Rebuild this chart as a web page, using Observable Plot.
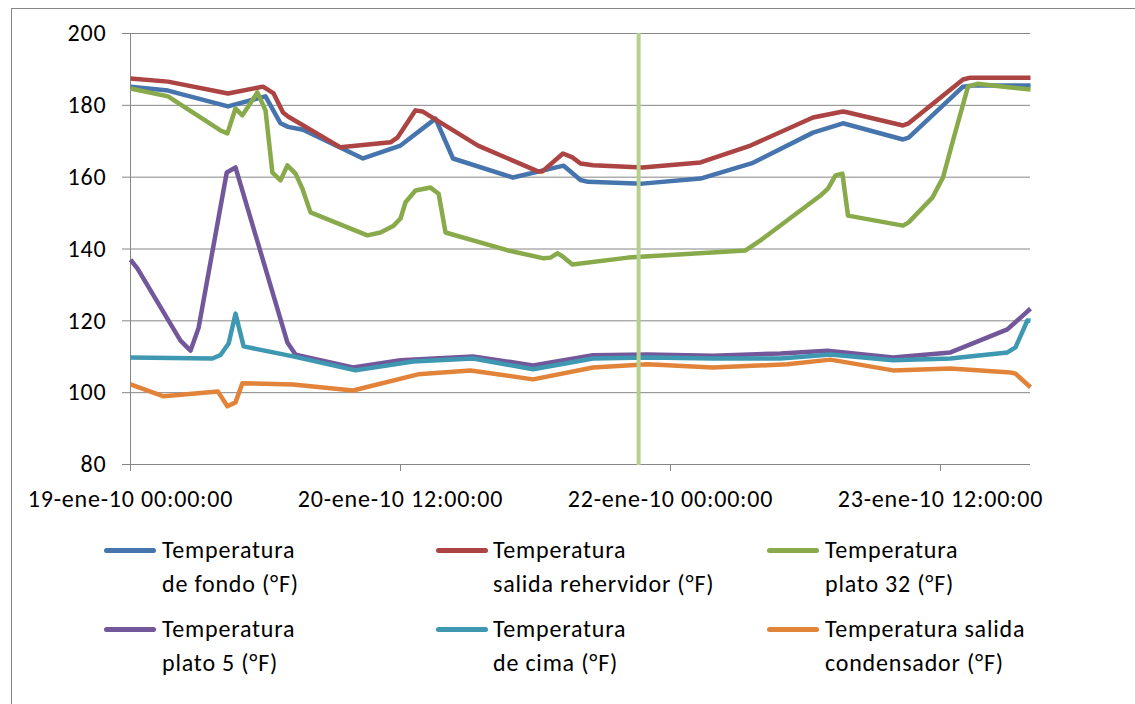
<!DOCTYPE html>
<html>
<head>
<meta charset="utf-8">
<script src="https://cdn.jsdelivr.net/npm/d3@7"></script>
<script src="https://cdn.jsdelivr.net/npm/@observablehq/plot@0.6"></script>
<style>
  html, body { margin: 0; padding: 0; background: #fff; overflow: hidden; }
  #wrap { position: relative; width: 1135px; height: 704px; overflow: hidden; font-family: Carlito, Calibri, Lato, sans-serif; }
  #frame { position: absolute; left: 11px; top: 8px; width: 1300px; height: 900px; border-left: 1px solid #868686; border-top: 1px solid #868686; }
  #chart { position: absolute; left: 0; top: 0; }
  .leg { position: absolute; font-size: 24px; letter-spacing: 0.8px; line-height: 34.5px; color: #000; white-space: nowrap; }
  .sw { position: absolute; width: 52px; height: 5px; border-radius: 3px; }
</style>
</head>
<body>
<div id="wrap">
  <div id="frame"></div>
  <div id="chart"></div>
  <div id="legend"></div>
</div>
<script>
// ---- data ----
const seriesNames = [
  "Temperatura de fondo (°F)",
  "Temperatura salida rehervidor (°F)",
  "Temperatura plato 32 (°F)",
  "Temperatura plato 5 (°F)",
  "Temperatura de cima (°F)",
  "Temperatura salida condensador (°F)"
];
const legendLines = [
  ["Temperatura", "de fondo (°F)"],
  ["Temperatura", "salida rehervidor (°F)"],
  ["Temperatura", "plato 32 (°F)"],
  ["Temperatura", "plato 5 (°F)"],
  ["Temperatura", "de cima (°F)"],
  ["Temperatura salida", "condensador (°F)"]
];
const seriesColors = ["#4675ad", "#ab4442", "#88aa4b", "#72589a", "#3e98b1", "#e2833a"];

const fondo = [
  ["2010-01-19 00:00", 185.2], ["2010-01-19 05:00", 184.1], ["2010-01-19 13:00", 179.7],
  ["2010-01-19 18:00", 182.5], ["2010-01-19 20:00", 175.0], ["2010-01-19 21:00", 174.0],
  ["2010-01-19 23:00", 173.2], ["2010-01-20 07:00", 165.2], ["2010-01-20 12:00", 168.8],
  ["2010-01-20 16:40", 176.3], ["2010-01-20 19:00", 165.2], ["2010-01-21 03:00", 159.9],
  ["2010-01-21 09:45", 163.2], ["2010-01-21 12:00", 159.2], ["2010-01-21 13:00", 158.7],
  ["2010-01-21 20:15", 158.2], ["2010-01-22 04:00", 159.6], ["2010-01-22 11:00", 164.0],
  ["2010-01-22 19:00", 172.4], ["2010-01-22 23:00", 175.0], ["2010-01-23 07:00", 170.5],
  ["2010-01-23 07:45", 171.0], ["2010-01-23 15:00", 185.2], ["2010-01-23 16:25", 185.5],
  ["2010-01-24 00:00", 185.5]
];
const rehervidor = [
  ["2010-01-19 00:00", 187.5], ["2010-01-19 05:00", 186.6], ["2010-01-19 13:00", 183.3],
  ["2010-01-19 17:40", 185.2], ["2010-01-19 19:05", 183.3], ["2010-01-19 20:20", 178.0],
  ["2010-01-19 21:00", 176.9], ["2010-01-20 04:00", 168.3], ["2010-01-20 10:40", 169.7],
  ["2010-01-20 11:35", 171.0], ["2010-01-20 14:00", 178.6], ["2010-01-20 14:55", 178.3],
  ["2010-01-20 22:20", 168.8], ["2010-01-21 06:20", 161.6], ["2010-01-21 06:55", 161.6],
  ["2010-01-21 09:40", 166.6], ["2010-01-21 10:55", 165.5], ["2010-01-21 12:00", 163.8],
  ["2010-01-21 13:40", 163.3], ["2010-01-21 20:15", 162.7], ["2010-01-22 04:00", 164.1],
  ["2010-01-22 10:40", 168.8], ["2010-01-22 19:00", 176.6], ["2010-01-22 23:00", 178.3],
  ["2010-01-22 23:40", 178.0], ["2010-01-23 07:00", 174.4], ["2010-01-23 07:45", 175.0],
  ["2010-01-23 15:00", 187.2], ["2010-01-23 16:00", 187.7], ["2010-01-24 00:00", 187.7]
];
const plato32 = [
  ["2010-01-19 00:00", 184.7], ["2010-01-19 05:00", 182.5], ["2010-01-19 12:00", 173.0],
  ["2010-01-19 12:55", 172.2], ["2010-01-19 14:00", 179.1], ["2010-01-19 14:55", 177.2],
  ["2010-01-19 16:55", 183.6], ["2010-01-19 18:00", 178.6], ["2010-01-19 18:55", 161.3],
  ["2010-01-19 20:00", 159.1], ["2010-01-19 20:55", 163.3], ["2010-01-19 22:00", 161.0],
  ["2010-01-19 22:55", 156.8], ["2010-01-20 00:00", 150.2], ["2010-01-20 07:35", 143.8],
  ["2010-01-20 09:20", 144.6], ["2010-01-20 11:05", 146.5], ["2010-01-20 12:00", 148.5],
  ["2010-01-20 12:40", 153.0], ["2010-01-20 14:00", 156.3], ["2010-01-20 16:00", 157.1],
  ["2010-01-20 17:05", 155.4], ["2010-01-20 18:00", 144.6], ["2010-01-21 02:20", 139.6],
  ["2010-01-21 07:05", 137.4], ["2010-01-21 08:00", 137.6], ["2010-01-21 08:55", 138.8],
  ["2010-01-21 09:35", 138.0], ["2010-01-21 10:55", 135.7], ["2010-01-21 18:20", 137.6],
  ["2010-01-22 10:00", 139.6], ["2010-01-22 12:00", 142.4], ["2010-01-22 20:00", 154.9],
  ["2010-01-22 21:00", 156.8], ["2010-01-22 22:00", 160.5], ["2010-01-22 22:55", 161.0],
  ["2010-01-22 23:40", 149.3], ["2010-01-23 07:00", 146.5], ["2010-01-23 07:45", 147.4],
  ["2010-01-23 10:55", 154.3], ["2010-01-23 12:20", 159.9], ["2010-01-23 13:40", 170.2],
  ["2010-01-23 15:40", 185.2], ["2010-01-23 16:55", 186.0], ["2010-01-23 20:25", 185.2],
  ["2010-01-24 00:00", 184.4]
];
const plato5 = [
  ["2010-01-19 00:00", 137.0], ["2010-01-19 00:55", 134.6], ["2010-01-19 06:40", 114.5],
  ["2010-01-19 08:00", 111.7], ["2010-01-19 09:05", 118.1], ["2010-01-19 12:50", 161.3],
  ["2010-01-19 14:00", 162.7], ["2010-01-19 20:55", 114.0], ["2010-01-19 22:00", 110.6],
  ["2010-01-20 05:40", 107.0], ["2010-01-20 12:00", 109.0], ["2010-01-20 21:40", 110.1],
  ["2010-01-21 05:40", 107.6], ["2010-01-21 13:40", 110.4], ["2010-01-21 20:55", 110.6],
  ["2010-01-22 05:40", 110.3], ["2010-01-22 14:40", 110.9], ["2010-01-22 20:55", 111.7],
  ["2010-01-23 05:40", 109.8], ["2010-01-23 13:20", 111.2], ["2010-01-23 20:55", 117.6],
  ["2010-01-24 00:00", 123.4]
];
const cima = [
  ["2010-01-19 00:00", 109.8], ["2010-01-19 10:55", 109.5], ["2010-01-19 12:00", 110.5],
  ["2010-01-19 13:05", 113.7], ["2010-01-19 14:00", 122.0], ["2010-01-19 15:05", 112.9],
  ["2010-01-19 21:40", 110.1], ["2010-01-20 06:00", 106.2], ["2010-01-20 13:40", 108.7],
  ["2010-01-20 21:40", 109.5], ["2010-01-21 05:40", 106.5], ["2010-01-21 13:40", 109.5],
  ["2010-01-21 20:55", 109.8], ["2010-01-22 05:40", 109.5], ["2010-01-22 14:40", 109.5],
  ["2010-01-22 21:20", 110.6], ["2010-01-23 05:40", 109.0], ["2010-01-23 13:20", 109.5],
  ["2010-01-23 20:55", 111.2], ["2010-01-23 22:00", 112.6], ["2010-01-23 23:35", 120.1],
  ["2010-01-24 00:00", 120.0]
];
const condensador = [
  ["2010-01-19 00:00", 102.3], ["2010-01-19 04:25", 99.0], ["2010-01-19 11:40", 100.3],
  ["2010-01-19 12:55", 96.2], ["2010-01-19 14:00", 97.3], ["2010-01-19 14:55", 102.6],
  ["2010-01-19 21:40", 102.3], ["2010-01-20 05:40", 100.6], ["2010-01-20 14:20", 105.1],
  ["2010-01-20 21:20", 106.2], ["2010-01-21 05:40", 103.7], ["2010-01-21 13:40", 107.0],
  ["2010-01-21 20:55", 107.9], ["2010-01-22 05:40", 107.0], ["2010-01-22 15:35", 107.9],
  ["2010-01-22 21:20", 109.2], ["2010-01-23 05:40", 106.2], ["2010-01-23 13:20", 106.7],
  ["2010-01-23 21:20", 105.6], ["2010-01-23 22:00", 105.3], ["2010-01-24 00:00", 101.5]
];
const seriesData = [fondo, rehervidor, plato32, plato5, cima, condensador];

const xDomain = ["2010-01-19 00:00", "2010-01-24 00:00"];
const xTickDates = ["2010-01-19 00:00", "2010-01-20 12:00", "2010-01-22 00:00", "2010-01-23 12:00"];
const xTickLabels = ["19-ene-10 00:00:00", "20-ene-10 12:00:00", "22-ene-10 00:00:00", "23-ene-10 12:00:00"];
const yTicks = [80, 100, 120, 140, 160, 180, 200];
const markerDate = "2010-01-21 19:45";

// ---- build ----
const parse = d3.utcParse("%Y-%m-%d %H:%M");
const rows = seriesData.flatMap((pts, i) => pts.map(([t, v]) => ({ t: parse(t), v, s: seriesNames[i] })));
const tickDates = xTickDates.map(parse);
const labelMap = new Map(tickDates.map((d, i) => [+d, xTickLabels[i]]));
const grey = "#868686";
const font = "Carlito, Calibri, Lato, sans-serif";

const chart = Plot.plot({
  width: 1135,
  height: 520,
  marginLeft: 130,
  marginRight: 105,
  marginTop: 33,
  marginBottom: 56,
  style: { fontFamily: font, fontSize: "24px", letterSpacing: "0.8px", color: "#000", background: "transparent", overflow: "visible" },
  x: { type: "utc", domain: xDomain.map(parse) },
  y: { domain: [80, 200] },
  color: { domain: seriesNames, range: seriesColors },
  marks: [
    Plot.gridY(yTicks, { stroke: grey, strokeOpacity: 1, strokeWidth: 1 }),
    Plot.ruleX([xDomain.map(parse)[0]], { stroke: grey, strokeWidth: 1 }),
    Plot.ruleY([80], { stroke: grey, strokeWidth: 1 }),
    Plot.axisY({ ticks: yTicks, tickSize: 8, tickPadding: 16, stroke: grey, fill: "#000", label: null }),
    Plot.axisX({ ticks: tickDates, tickSize: 7, tickPadding: 18, stroke: grey, fill: "#000", label: null,
                 tickFormat: d => labelMap.get(+d) }),
    Plot.line(rows, { x: "t", y: "v", z: "s", stroke: "s", strokeWidth: 4.5, strokeLinejoin: "round", strokeLinecap: "butt" }),
    Plot.ruleX([parse(markerDate)], { y1: 79.7, y2: 200, stroke: "#b5cf8f", strokeWidth: 4 })
  ]
});
document.getElementById("chart").appendChild(chart);

// ---- legend ----
const legend = document.getElementById("legend");
const swatchX = [104, 436, 767];
const textX = [162, 493, 825];
const rowY = [550, 629];
seriesNames.forEach((name, i) => {
  const c = i % 3, r = Math.floor(i / 3);
  const sw = document.createElement("div");
  sw.className = "sw";
  sw.style.left = swatchX[c] + "px";
  sw.style.top = (rowY[r] - 2.5) + "px";
  sw.style.background = seriesColors[i];
  legend.appendChild(sw);
  const tx = document.createElement("div");
  tx.className = "leg";
  tx.style.left = textX[c] + "px";
  tx.style.top = (rowY[r] - 17.5) + "px";
  tx.innerHTML = legendLines[i].join("<br>");
  legend.appendChild(tx);
});
</script>
</body>
</html>
